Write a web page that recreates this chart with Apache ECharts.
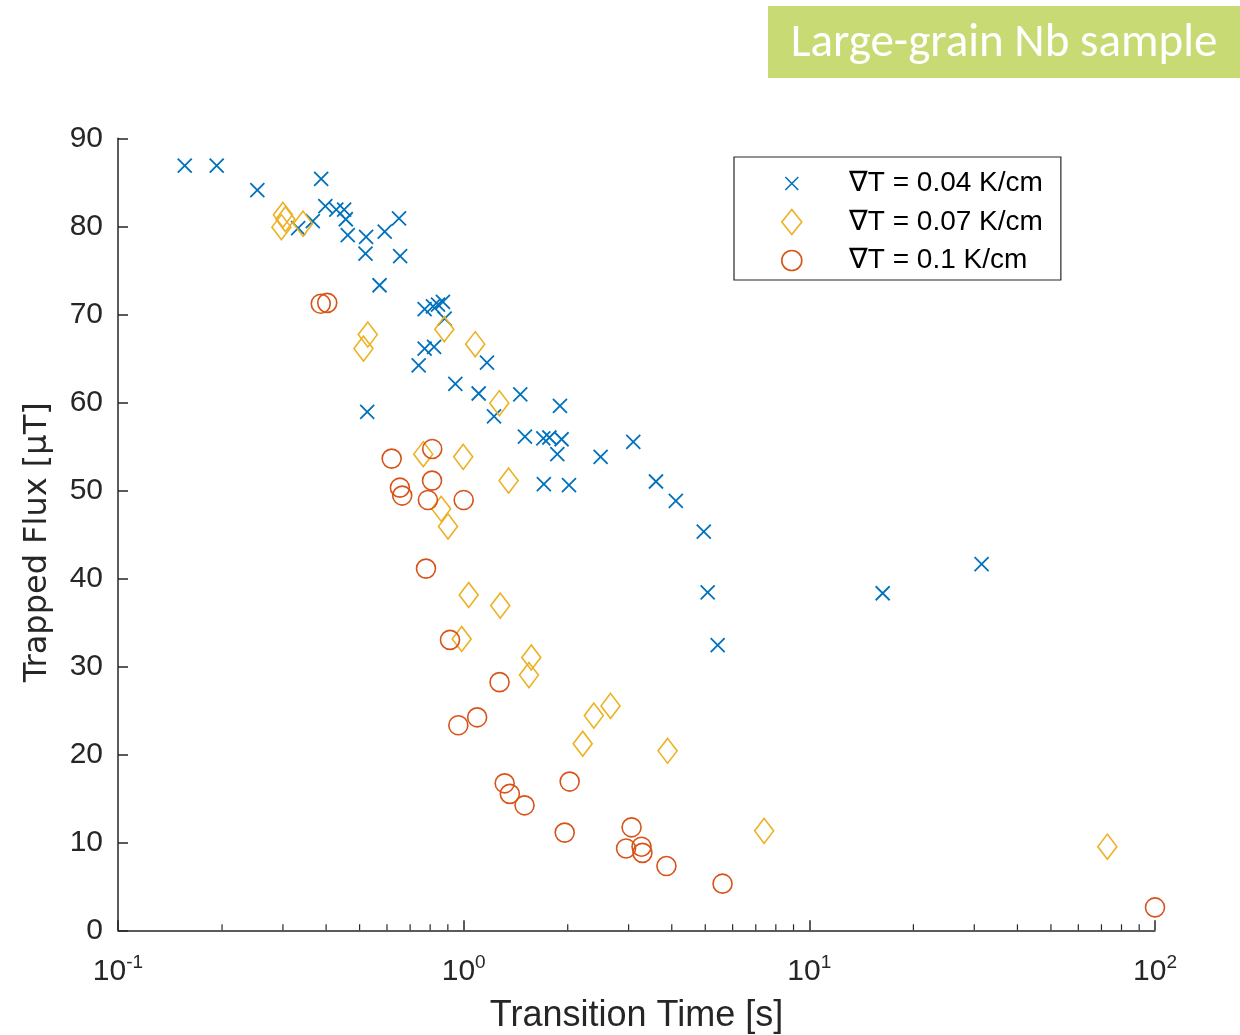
<!DOCTYPE html>
<html><head><meta charset="utf-8">
<script src="https://cdn.jsdelivr.net/npm/echarts@6/dist/echarts.min.js"></script>
<style>html,body{margin:0;padding:0;background:#fff}#c{width:1240px;height:1035px}</style>
</head><body><div id="c"></div>
<script>
// ---- data (transition time [s], trapped flux [uT]) ----
const seriesNames = ['\u2207T = 0.04 K/cm', '\u2207T = 0.07 K/cm', '\u2207T = 0.1 K/cm'];
const blueT = [0.156,0.193,0.253,0.387,0.398,0.428,0.451,0.456,0.462,0.522,0.520,0.591,0.650,0.655,0.571,0.332,0.366,
  0.771,0.815,0.843,0.871,0.881,0.771,0.821,0.741,0.946,1.105,1.168,1.458,1.224,0.526,
  1.899,1.504,1.70,1.77,1.920,1.866,2.49,3.095,1.706,2.017,3.60,4.11,4.95,5.08,5.43,16.3,31.5];
const blueF = [86.9,86.9,84.1,85.4,82.3,81.9,81.9,80.8,79.0,78.8,76.9,79.4,80.9,76.6,73.3,79.8,80.6,
  70.6,70.9,71.1,71.4,69.5,66.1,66.3,64.2,62.1,61.0,64.5,60.9,58.4,58.9,
  59.6,56.1,55.9,56.0,55.8,54.1,53.8,55.5,50.7,50.6,51.0,48.8,45.3,38.4,32.4,38.3,41.6];
const yellowT = [0.300,0.297,0.305,0.343,0.528,0.513,0.879,1.080,1.268,0.764,0.997,1.349,0.861,0.901,1.034,1.276,0.987,1.569,1.545,2.38,2.66,2.21,3.89,7.40,72.8];
const yellowF = [81.3,79.9,80.8,80.3,67.7,66.1,68.3,66.6,59.9,54.1,53.8,51.1,47.9,45.9,38.1,36.9,33.1,31.0,29.0,24.4,25.5,21.2,20.4,11.3,9.5];
const redT = [0.386,0.403,0.619,0.811,0.654,0.664,0.810,0.788,1.000,0.778,0.913,1.27,1.094,0.965,2.026,1.314,1.36,1.50,1.96,3.06,2.95,3.27,3.29,3.86,5.61,100];
const redF = [71.2,71.3,53.6,54.7,50.3,49.4,51.1,48.9,48.9,41.1,33.0,28.2,24.2,23.3,16.9,16.7,15.5,14.2,11.1,11.7,9.3,9.5,8.8,7.3,5.3,2.6];
const xMin = 0.1, xMax = 100;
const yMin = 0, yMax = 90, yStep = 10;
const minorMultipliers = [2,3,4,5,6,7,8,9];
const minorDecades = [0.1, 1, 10];
const titleText = 'Large-grain Nb sample';
const xName = 'Transition Time [s]';
const yName = 'Trapped Flux [\u03bcT]';

const zip = (a, b) => a.map((v, i) => [v, b[i]]);
const AX = '#262626';
const C_BLUE = '#0072BD', C_YEL = '#EDB120', C_RED = '#D95319';
const crossPath = 'path://M0,0L10,10M10,0L0,10';
const crossIcon = 'path://M-10,-12.5M10,12.5M-6.5,-6.5L6.5,6.5M6.5,-6.5L-6.5,6.5';
const diamondIcon = 'path://M0,-12.5L10,0L0,12.5L-10,0Z';
const circleIcon = 'path://M-10,-12.5M10,12.5M10,0A10,10,0,1,1,-10,0A10,10,0,1,1,10,0Z';
const SANS = '"Liberation Sans",Arial,sans-serif';
const NARROW = '"Liberation Sans Narrow","Arial Narrow","Liberation Sans",Arial,sans-serif';

const chart = echarts.init(document.getElementById('c'));
const option = {
  animation: false,
  backgroundColor: '#fff',
  grid: { left: 118, top: 138.3, right: 85, bottom: 104.7, containLabel: false, outerBoundsMode: 'none' },
  xAxis: {
    type: 'log', logBase: 10, min: xMin, max: xMax,
    name: xName, nameLocation: 'middle', nameGap: 68,
    nameTextStyle: { fontFamily: NARROW, fontSize: 36, color: AX },
    axisLine: { show: true, onZero: false, lineStyle: { color: AX, width: 1.5 } },
    axisTick: { show: true, inside: true, length: 10, lineStyle: { color: AX, width: 1.5 } },
    splitLine: { show: false },
    axisLabel: {
      margin: 23, color: AX,
      formatter: v => '{b|10}{s|' + Math.round(Math.log10(v)) + '}',
      rich: {
        b: { fontFamily: SANS, fontSize: 30, color: AX },
        s: { fontFamily: SANS, fontSize: 19, color: AX, padding: [0, 0, 18, 0] }
      }
    }
  },
  yAxis: {
    type: 'value', min: yMin, max: yMax, interval: yStep,
    name: yName, nameLocation: 'middle', nameGap: 64, nameRotate: 90,
    nameTextStyle: { fontFamily: '"DejaVu Sans",sans-serif', fontSize: 32, color: AX, padding: [0, 16, 0, 0] },
    axisLine: { show: true, lineStyle: { color: AX, width: 1.5 } },
    axisTick: { show: true, inside: true, length: 10, lineStyle: { color: AX, width: 1.5 } },
    splitLine: { show: false },
    axisLabel: { margin: 15, color: AX, fontFamily: SANS, fontSize: 30, padding: [12, 0, 0, 0] }
  },
  legend: {
    orient: 'vertical', left: 734, top: 157,
    padding: [12.5, 18, 5.5, 47],
    itemWidth: 20, itemHeight: 25, itemGap: 10.5,
    symbolKeepAspect: true,
    borderColor: AX, borderWidth: 1.2, backgroundColor: '#fff',
    textStyle: { fontFamily: SANS, fontSize: 28, lineHeight: 25, color: '#000', padding: [0, 0, 0, 42] },
    data: [
      { name: seriesNames[0], icon: crossIcon, itemStyle: { color: 'rgba(0,0,0,0)', borderColor: C_BLUE, borderWidth: 1.6 } },
      { name: seriesNames[1], icon: diamondIcon, itemStyle: { color: 'rgba(0,0,0,0)', borderColor: C_YEL, borderWidth: 1.6 } },
      { name: seriesNames[2], icon: circleIcon, itemStyle: { color: 'rgba(0,0,0,0)', borderColor: C_RED, borderWidth: 1.6 } }
    ]
  },
  series: [
    { name: seriesNames[0], type: 'scatter', data: zip(blueT, blueF), symbol: crossPath, symbolSize: 14,
      itemStyle: { color: 'rgba(0,0,0,0)', borderColor: C_BLUE, borderWidth: 1.8, opacity: 1 } },
    { name: seriesNames[1], type: 'scatter', data: zip(yellowT, yellowF), symbol: 'diamond', symbolSize: [19, 25],
      itemStyle: { color: 'rgba(0,0,0,0)', borderColor: C_YEL, borderWidth: 1.6, opacity: 1 } },
    { name: seriesNames[2], type: 'scatter', data: zip(redT, redF), symbol: 'circle', symbolSize: 19,
      itemStyle: { color: 'rgba(0,0,0,0)', borderColor: C_RED, borderWidth: 1.6, opacity: 1 } }
  ],
  graphic: [
    { type: 'rect', x: 768, y: 6, shape: { x: 0, y: 0, width: 472, height: 72 }, style: { fill: '#C8DA74' }, z: 10 },
    { type: 'text', x: 1004, y: 44, z: 11,
      style: { text: titleText, fill: '#fff', font: '47px Carlito, Lato, "Open Sans", sans-serif', textAlign: 'center', textVerticalAlign: 'middle' } }
  ]
};
chart.setOption(option);

// minor ticks of the log axis, placed through the axis scale
const y0px = chart.convertToPixel({ yAxisIndex: 0 }, yMin);
const minorTickValues = [];
minorDecades.forEach(d => minorMultipliers.forEach(m => minorTickValues.push(m * d)));
const minorEls = minorTickValues.map(v => {
  const px = chart.convertToPixel({ xAxisIndex: 0 }, v);
  return { type: 'line', shape: { x1: px, y1: y0px, x2: px, y2: y0px - 6 }, style: { stroke: AX, lineWidth: 1.2 }, silent: true };
});
chart.setOption({ graphic: option.graphic.concat(minorEls) });
</script></body></html>
